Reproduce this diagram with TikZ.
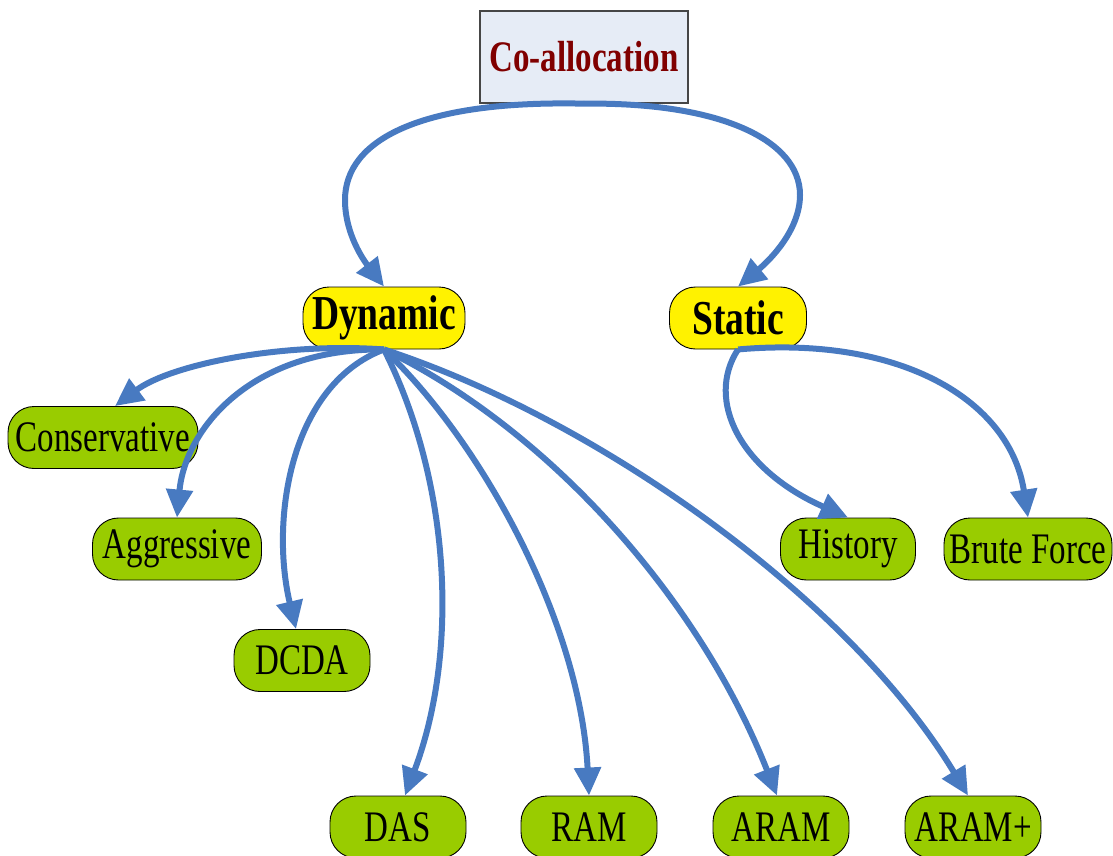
\documentclass[tikz,border=0pt]{standalone}
\usepackage{fontspec}
\setmainfont{Liberation Serif}
\usetikzlibrary{arrows.meta,calc}
\definecolor{edgeblue}{RGB}{72,122,193}
\definecolor{leafgreen}{RGB}{153,204,0}
\definecolor{rootfill}{RGB}{230,236,246}
\definecolor{rootdraw}{RGB}{70,70,70}
\definecolor{roottext}{RGB}{128,0,0}
\newcommand{\tallA}[1]{\scalebox{1}[1.32]{#1}}
\newcommand{\tallB}[1]{\scalebox{1}[1.3]{#1}}
\tikzset{
  rootbox/.style={draw=rootdraw, line width=1.3pt, fill=rootfill, minimum width=208pt, minimum height=92pt, inner sep=0pt, text=roottext, font=\fontsize{33}{40}\selectfont\bfseries},
  midbox/.style={draw=black, line width=0.9pt, fill=yellow, rounded corners=26pt, minimum height=62pt, inner sep=0pt, font=\fontsize{37.5}{44}\selectfont\bfseries},
  leafbox/.style={draw=black, line width=0.9pt, fill=leafgreen, rounded corners=26pt, minimum height=62pt, inner sep=0pt, font=\fontsize{33}{40}\selectfont},
  edge/.style={edgeblue, line width=6pt, -{Triangle[length=28pt,width=26pt]}}
}
\begin{document}
\begin{tikzpicture}[x=1pt,y=-1pt]
\useasboundingbox (0,0) rectangle (1113,855);
\node[rootbox] (coal) at (584,57) {\tallA{Co-allocation}};
\node[midbox, minimum width=162pt] (dyn) at (384,318) {\tallB{Dynamic}};
\node[midbox, minimum width=137pt] (stat) at (738,318) {\tallB{Static}};
\node[leafbox, minimum width=190pt] (cons) at (103,437.5) {\tallA{Conservative}};
\node[leafbox, minimum width=169pt] (aggr) at (177,549) {\tallA{Aggressive}};
\node[leafbox, minimum width=136pt] (dcda) at (302,660.5) {\tallA{DCDA}};
\node[leafbox, minimum width=136pt] (das) at (398,827) {\tallA{DAS}};
\node[leafbox, minimum width=136pt] (ram) at (589,827) {\tallA{RAM}};
\node[leafbox, minimum width=136pt] (aram) at (781,827) {\tallA{ARAM}};
\node[leafbox, minimum width=136pt] (aramp) at (973,827) {\tallA{ARAM+}};
\node[leafbox, minimum width=135pt] (hist) at (848,549) {\tallA{History}};
\node[leafbox, minimum width=168pt] (brute) at (1028,549) {\tallA{Brute Force}};

\draw[edge] (coal.south) .. controls (420,100) and (345,140) .. (345,200)
  .. controls (345,235) and (365,262) .. (dyn.north);
\draw[edge] (coal.south) .. controls (720,102) and (800,140) .. (800,195)
  .. controls (800,230) and (770,260) .. (stat.north);

\draw[edge] (dyn.south) .. controls (280,342) and (170,365) .. ($(cons.north)+(12,0)$);
\draw[edge] (dyn.south) .. controls (250,348) and (185,430) .. (aggr.north);
\draw[edge] (dyn.south) .. controls (290,385) and (270,520) .. ($(dcda.north)+(-6,0)$);
\draw[edge] (dyn.south) .. controls (450,480) and (460,650) .. ($(das.north)+(7,0)$);
\draw[edge] (dyn.south) .. controls (480,440) and (580,620) .. (ram.north);
\draw[edge] (dyn.south) .. controls (550,430) and (700,600) .. ($(aram.north)+(-4,0)$);
\draw[edge] (dyn.south) .. controls (600,420) and (850,600) .. ($(aramp.north)+(-5,0)$);

\draw[edge] (stat.south) .. controls (705,400) and (740,470) .. (hist.north);
\draw[edge] (stat.south) .. controls (900,335) and (1010,400) .. (brute.north);
\end{tikzpicture}
\end{document}
